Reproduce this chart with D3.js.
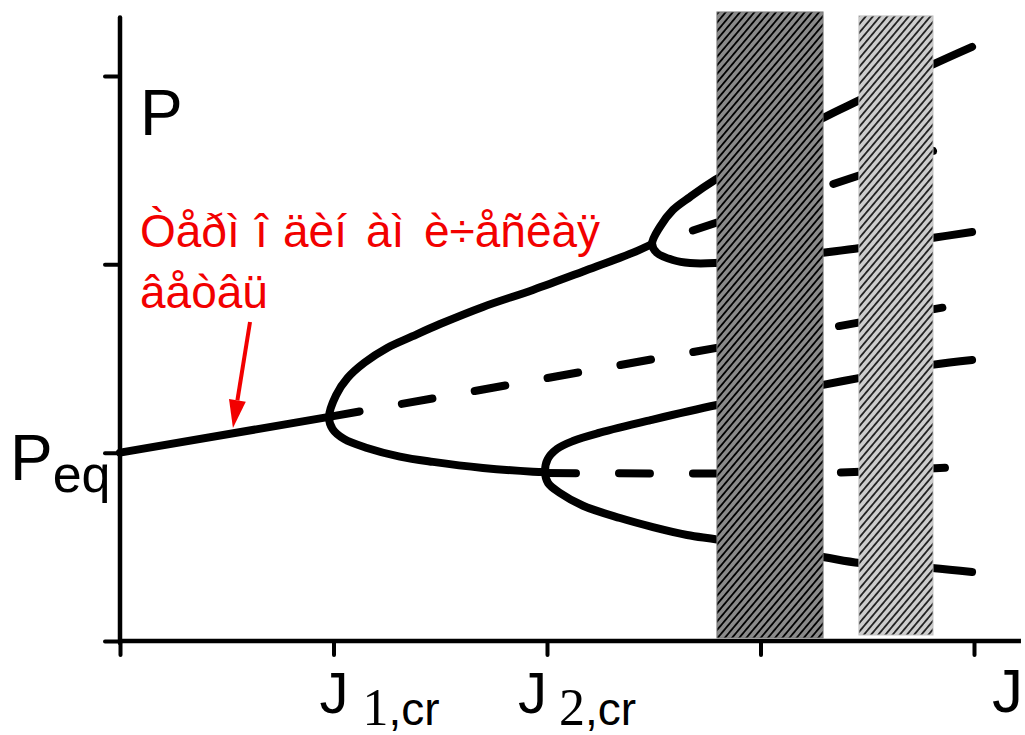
<!DOCTYPE html>
<html>
<head>
<meta charset="utf-8">
<script src="https://cdn.jsdelivr.net/npm/d3@7"></script>
<style>
  html, body { margin: 0; padding: 0; background: #fff; }
  svg { display: block; }
</style>
</head>
<body>
<script>
// ---------------- DATA ----------------
// control parameter J (x), order parameter P (y)
const jTicks = [0, 1, 2, 3, 4];
const pTicks = [0, 1, 2, 3];

// thermodynamic branch (stable)
const thermoBranch = [[0, 1.00], [0.979, 1.19]];

// first bifurcation at J1,cr
const branch1Upper = [[0.979, 1.190], [1.012, 1.305], [1.066, 1.397], [1.145, 1.478], [1.251, 1.556],
  [1.368, 1.617], [1.499, 1.683], [1.700, 1.774], [1.934, 1.864], [2.169, 1.962], [2.403, 2.062], [2.492, 2.108]];
const branch1Lower = [[0.979, 1.190], [0.996, 1.125], [1.049, 1.073], [1.157, 1.025], [1.311, 0.979],
  [1.466, 0.951], [1.700, 0.919], [1.934, 0.899], [1.991, 0.897]];
const branch1Unstable = [[0.979, 1.190], [3.897, 1.779]];

// bifurcation on the upper branch
const branch2Top = [[2.492, 2.108], [2.529, 2.199], [2.590, 2.289], [2.670, 2.358], [2.787, 2.448],
  [3.293, 2.777], [3.466, 2.873], [3.803, 3.059], [3.991, 3.155]];
const branch2Low = [[2.492, 2.108], [2.515, 2.061], [2.590, 2.023], [2.670, 2.007], [2.787, 2.007],
  [3.293, 2.061], [3.466, 2.087], [3.803, 2.140], [3.991, 2.172]];
const branch2Unstable = [[2.492, 2.108], [3.864, 2.623]];

// second bifurcation at J2,cr
const branch3Up = [[1.991, 0.897], [2.003, 0.965], [2.047, 1.020], [2.122, 1.062], [2.248, 1.106],
  [2.482, 1.172], [2.796, 1.253], [3.293, 1.360], [3.466, 1.397], [3.803, 1.466], [3.991, 1.492]];
const branch3Low = [[1.991, 0.897], [2.005, 0.839], [2.061, 0.786], [2.169, 0.718], [2.342, 0.653],
  [2.496, 0.605], [2.656, 0.563], [2.796, 0.539], [3.293, 0.446], [3.466, 0.414], [3.803, 0.388], [3.991, 0.366]];
const branch3Unstable = [[1.991, 0.892], [3.340, 0.894], [3.864, 0.920]];

// hatched regions [J0, J1, P0, P1]
const bandDark = [2.796, 3.293, 0.016, 3.340];
const bandLight = [3.461, 3.808, 0.032, 3.319];

// annotation arrow [from, to]
const arrowPts = [[0.609, 1.694], [0.529, 1.131]];

// texts
const annotLine1 = "Òåðì î äèí àì è÷åñêàÿ";
const annotLine2 = "âåòâü";
const yLabel = "P";
const peqMain = "P", peqSub = "eq";
const xLabel = "J";
const critLabels = [{ j: 1, num: "1" }, { j: 2, num: "2" }];

// ---------------- DRAW ----------------
const W = 1025, H = 735;
const x = d3.scaleLinear().domain([0, 4]).range([120, 974]);
const y = d3.scaleLinear().domain([0, 3]).range([641, 76]);

const svg = d3.select("body").append("svg").attr("width", W).attr("height", H);
const defs = svg.append("defs");

function hatch(id, bg, lineW, spacing, angle) {
  const p = defs.append("pattern").attr("id", id)
    .attr("patternUnits", "userSpaceOnUse")
    .attr("width", spacing).attr("height", 10)
    .attr("patternTransform", `rotate(${angle})`);
  p.append("rect").attr("width", spacing).attr("height", 10).attr("fill", bg);
  p.append("line").attr("x1", spacing / 2).attr("x2", spacing / 2).attr("y1", 0).attr("y2", 10)
    .attr("stroke", "#000").attr("stroke-width", lineW);
}
hatch("hDark", "#8a8a8a", 1.8, 5.5, 40);
hatch("hLight", "#cdcdcd", 1.5, 5.5, 40);

const font = "'Liberation Sans', Arial, sans-serif";
const serif = "'Liberation Serif', 'Times New Roman', serif";

// axes
const xAxis = d3.axisBottom(x).tickValues(jTicks).tickSize(14).tickSizeOuter(0).tickFormat(() => "");
const yAxis = d3.axisLeft(y).tickValues(pTicks).tickSize(15).tickSizeOuter(0).tickFormat(() => "");
const gx = svg.append("g").attr("transform", `translate(0,${y(0)})`).call(xAxis);
const gy = svg.append("g").attr("transform", `translate(${x(0)},0)`).call(yAxis);
[gx, gy].forEach(g => {
  g.select(".domain").remove();
  g.selectAll(".tick line").attr("stroke", "#000").attr("stroke-width", 4).attr("stroke-linecap", "round");
});
svg.append("line").attr("x1", x(0)).attr("x2", x(4.22)).attr("y1", y(0)).attr("y2", y(0))
  .attr("stroke", "#000").attr("stroke-width", 4.5);
svg.append("line").attr("x1", x(0)).attr("x2", x(0)).attr("y1", y(0) + 2).attr("y2", y(3.31))
  .attr("stroke", "#000").attr("stroke-width", 4.5).attr("stroke-linecap", "round");

// curves
const line = d3.line().x(d => x(d[0])).y(d => y(d[1])).curve(d3.curveCatmullRom.alpha(0.5));
const cShape = (up, low) => up.slice().reverse().concat(low.slice(1));

const solid = [thermoBranch, cShape(branch1Upper, branch1Lower), cShape(branch2Top, branch2Low), cShape(branch3Up, branch3Low)];
solid.forEach(d => {
  svg.append("path").attr("d", line(d)).attr("fill", "none").attr("stroke", "#000")
    .attr("stroke-width", 8).attr("stroke-linecap", "round").attr("stroke-linejoin", "round");
});
const dashed = [
  { d: branch1Unstable, off: 0 },
  { d: branch2Unstable, off: 31 },
  { d: branch3Unstable, off: 0 }
];
dashed.forEach(s => {
  svg.append("path").attr("d", line(s.d)).attr("fill", "none").attr("stroke", "#000")
    .attr("stroke-width", 8).attr("stroke-linecap", "round")
    .attr("stroke-dasharray", "31,43").attr("stroke-dashoffset", s.off);
});

// hatched bands
[[bandDark, "hDark", "#7a7a7a"], [bandLight, "hLight", "#c4c4c4"]].forEach(([b, id, edge]) => {
  svg.append("rect").attr("x", x(b[0])).attr("width", x(b[1]) - x(b[0]))
    .attr("y", y(b[3])).attr("height", y(b[2]) - y(b[3]))
    .attr("fill", `url(#${id})`).attr("stroke", edge).attr("stroke-width", 1);
});

// labels
svg.append("text").attr("x", 140).attr("y", 135).attr("font-family", font).attr("font-size", 64).text(yLabel);
const peq = svg.append("text").attr("x", 10).attr("y", y(1) + 27).attr("font-family", font).attr("font-size", 64);
peq.append("tspan").text(peqMain);
peq.append("tspan").attr("font-size", 52).attr("dy", 12).text(peqSub);

const labOff = { 1: -14, 2: -29 };
critLabels.forEach(c => {
  const t = svg.append("text").attr("x", x(c.j) + labOff[c.j]).attr("y", 713).attr("font-family", font).attr("font-size", 58);
  t.append("tspan").text("J");
  t.append("tspan").attr("dx", c.j === 1 ? 14 : 12).attr("dy", 12).attr("font-family", serif).attr("font-size", 52).text(c.num);
  t.append("tspan").attr("font-size", 46).text(",cr");
});
svg.append("text").attr("x", 1023).attr("y", 712).attr("text-anchor", "end")
  .attr("font-family", font).attr("font-size", 62).text(xLabel);

// red annotation
const red = "#f20000";
const words = annotLine1.split(" ");
const wordX = [140, 255, 283, 366, 424];
const t1 = svg.append("text").attr("y", 247).attr("font-family", font).attr("font-size", 46).attr("fill", red);
words.forEach((w, i) => {
  const ts = t1.append("tspan").attr("x", wordX[i]).text(w);
  if (i === words.length - 1) ts.attr("textLength", 176).attr("lengthAdjust", "spacingAndGlyphs");
});
svg.append("text").attr("x", 140).attr("y", 308).attr("font-family", font).attr("font-size", 46).attr("fill", red).text(annotLine2);

const a0 = [x(arrowPts[0][0]), y(arrowPts[0][1])], a1 = [x(arrowPts[1][0]), y(arrowPts[1][1])];
const ang = Math.atan2(a1[1] - a0[1], a1[0] - a0[0]);
const headL = 28, headW = 8.5;
const base = [a1[0] - headL * Math.cos(ang), a1[1] - headL * Math.sin(ang)];
svg.append("line").attr("x1", a0[0]).attr("y1", a0[1]).attr("x2", base[0]).attr("y2", base[1])
  .attr("stroke", red).attr("stroke-width", 4);
svg.append("path").attr("fill", red).attr("d", d3.line()([
  a1,
  [base[0] + headW * Math.sin(ang), base[1] - headW * Math.cos(ang)],
  [base[0] - headW * Math.sin(ang), base[1] + headW * Math.cos(ang)]
]) + "Z");
</script>
</body>
</html>
